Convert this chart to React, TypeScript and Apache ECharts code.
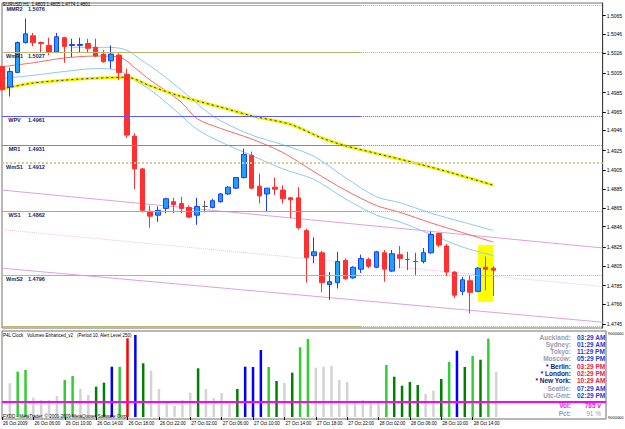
import { useEffect, useRef } from "react";
import * as echarts from "echarts";

// ---------------- DATA ----------------
const TOTAL_SLOTS = 78; // 64 bars + empty shift area on the right
const timeLabels = [
  "26 Oct 2009", "26 Oct 06:00", "26 Oct 10:00", "26 Oct 14:00", "26 Oct 18:00",
  "26 Oct 22:00", "27 Oct 02:00", "27 Oct 06:00", "27 Oct 10:00", "27 Oct 14:00",
  "27 Oct 18:00", "27 Oct 22:00", "28 Oct 02:00", "28 Oct 06:00", "28 Oct 10:00",
  "28 Oct 14:00",
];
const LABEL_EVERY = 4;

const candleOpen = [
  1.5012, 1.4991, 1.5006, 1.5037, 1.5044, 1.5037, 1.5034, 1.5027, 1.5042, 1.5034,
  1.5034, 1.5036, 1.5032, 1.5025, 1.5018, 1.5024, 1.5004, 1.4940, 1.4906, 1.4862,
  1.4858, 1.4865, 1.4872, 1.4870, 1.4866, 1.4858, 1.4867, 1.4866, 1.4872, 1.4880,
  1.4886, 1.4897, 1.4920, 1.4888, 1.4880, 1.4887, 1.4884, 1.4876, 1.4876, 1.4842,
  1.4816, 1.4819, 1.4786, 1.4788, 1.4811, 1.4793, 1.4802, 1.4812, 1.4804, 1.4819,
  1.4800, 1.4817, 1.4812, 1.4810, 1.4810, 1.4819, 1.4839, 1.4826, 1.4799, 1.4779,
  1.4790, 1.4779, 1.4804, 1.4803,
];
const candleClose = [
  1.4988, 1.5007, 1.5037, 1.5046, 1.5037, 1.5036, 1.5027, 1.5043, 1.5033, 1.5035,
  1.5035, 1.5031, 1.5023, 1.5017, 1.5025, 1.5006, 1.4941, 1.4906, 1.4863, 1.4857,
  1.4863, 1.4875, 1.4869, 1.4865, 1.4856, 1.4867, 1.4867, 1.4873, 1.4880, 1.4887,
  1.4897, 1.4921, 1.4886, 1.4878, 1.4886, 1.4885, 1.4875, 1.4874, 1.4845, 1.4814,
  1.4820, 1.4788, 1.4789, 1.4810, 1.4792, 1.4804, 1.4813, 1.4805, 1.4820, 1.4802,
  1.4818, 1.4813, 1.4812, 1.4810, 1.4819, 1.4838, 1.4827, 1.4799, 1.4775, 1.4791,
  1.4778, 1.4803, 1.4802, 1.4801,
];
const candleLow = [
  1.4987, 1.4981, 1.5006, 1.5036, 1.5033, 1.5026, 1.5024, 1.5026, 1.5016, 1.5022,
  1.5026, 1.5027, 1.5022, 1.5016, 1.5010, 1.4998, 1.4938, 1.4885, 1.4861, 1.4845,
  1.4851, 1.4860, 1.4860, 1.4860, 1.4855, 1.4848, 1.4861, 1.4865, 1.4871, 1.4879,
  1.4885, 1.4896, 1.4885, 1.4870, 1.4862, 1.4879, 1.4870, 1.4855, 1.4843, 1.4788,
  1.4808, 1.4778, 1.4770, 1.4782, 1.4791, 1.4792, 1.4798, 1.4803, 1.4803, 1.4789,
  1.4799, 1.4803, 1.4801, 1.4796, 1.4808, 1.4818, 1.4825, 1.4795, 1.4772, 1.4775,
  1.4756, 1.4778, 1.4780, 1.4774,
];
const candleHigh = [
  1.5013, 1.5011, 1.5038, 1.5062, 1.5047, 1.5038, 1.5042, 1.5047, 1.5043, 1.5041,
  1.5042, 1.5041, 1.5041, 1.5029, 1.5034, 1.5026, 1.5010, 1.4943, 1.4907, 1.4868,
  1.4867, 1.4876, 1.4876, 1.4877, 1.4868, 1.4876, 1.4873, 1.4875, 1.4881, 1.4888,
  1.4897, 1.4927, 1.4924, 1.4901, 1.4886, 1.4897, 1.4889, 1.4877, 1.4887, 1.4844,
  1.4835, 1.4821, 1.4799, 1.4820, 1.4813, 1.4805, 1.4817, 1.4814, 1.4821, 1.4822,
  1.4822, 1.4826, 1.4820, 1.4819, 1.4824, 1.4841, 1.4840, 1.4828, 1.4800, 1.4794,
  1.4796, 1.4804, 1.4815, 1.4805,
];
const dojiBars = [26, 52, 53];

// moving averages / bands, sampled [barIndex, price]
const smaYellow: [number, number][] = [
  [0, 1.4989], [4, 1.4995], [8, 1.4998], [12, 1.5000], [16, 1.5001], [19, 1.4992],
  [23, 1.4981], [28, 1.4970], [32, 1.4961], [37, 1.4952], [41, 1.4938], [44, 1.4930],
  [48, 1.4922], [53, 1.4912], [58, 1.4901], [63, 1.4889],
];
const emaRed: [number, number][] = [
  [0, 1.5012], [4, 1.5016], [8, 1.5021], [12, 1.5023], [15, 1.5022], [17, 1.5011],
  [19, 1.4998], [21, 1.4987], [23, 1.4975], [25, 1.4958], [28, 1.4948], [32, 1.4937],
  [36, 1.4923], [40, 1.4903], [44, 1.4884], [48, 1.4868], [51, 1.4861], [55, 1.4850],
  [59, 1.4840], [63, 1.4830],
];
const bandUpper: [number, number][] = [
  [9, 1.5032], [14, 1.5032], [16, 1.5029], [18, 1.5018],
  [20, 1.5007], [24, 1.4981], [26, 1.4967], [28, 1.4956], [32, 1.4941], [36, 1.4931],
  [40, 1.4919], [44, 1.4897], [48, 1.4877], [51, 1.4871], [55, 1.4860], [59, 1.4851],
  [63, 1.4842],
];
const bandLower: [number, number][] = [
  [0, 1.5000], [4, 1.5003], [8, 1.5007], [12, 1.5010], [15, 1.5008], [17, 1.4998],
  [19, 1.4988], [21, 1.4975], [23, 1.4961], [25, 1.4947], [28, 1.4934], [32, 1.4920],
  [36, 1.4906], [40, 1.4895], [44, 1.4875], [48, 1.4858], [51, 1.4851], [55, 1.4838],
  [59, 1.4825], [63, 1.4816],
];
// regression channel
const channelUpper: [number, number][] = [[0, 1.4884], [77, 1.4824]];
const channelMid: [number, number][] = [[0, 1.4843], [77, 1.4784]];
const channelLower: [number, number][] = [[0, 1.4803], [77, 1.4747]];

// pivot levels
const pivotNames = ["MMR2", "WmR1", "WPV", "MR1", "WmS1", "WS1", "WmS2", ""];
const pivotValues = [1.5076, 1.5027, 1.4961, 1.4931, 1.4912, 1.4862, 1.4796, 1.4743];
const PIVOT_SPLIT = 46;

// highlight box
const boxFrom = 61, boxTo = 63, boxHigh = 1.4827, boxLow = 1.4768;
const lastPrice = 1.4801;

const priceTicks = [
  1.5065, 1.5046, 1.5026, 1.5005, 1.4985, 1.4965, 1.4946, 1.4925, 1.4905, 1.4885,
  1.4865, 1.4846, 1.4825, 1.4805, 1.4785, 1.4766, 1.4745,
];

const volumes = [
  null, 570, 766, 794, 326, 287, 287, 355, 625, 693, 473, 372, 512, 580, 850, 848,
  1330, 1386, 908, 782, 473, 237, 186, 287, 411, 823, 473, 321, 406, 220, 473, 850,
  845, 1132, 845, 608, 575, 749, 1178, 1318, 833, 850, 862, 625, 592, 259, 287, 259,
  259, 879, 681, 529, 592, 541, 389, 444, 642, 930, 1120, 845, 1031, 968, 1323, 765,
];
const volumeCodes =
  "n" + "qllqqqqllq" + "qddblrbdqq" + "qqqqdqqqqd" + "bbbldqdllq" + "qqqqqqqqld" + "dddqqdlbdl" + "dlq";
const alertLevel = 250;

const clockCities = ["Auckland:", "Sydney:", "Tokyo:", "Moscow:", "* Berlin:", "* London:", "* New York:", "Seattle:", "Utc-Gmt:"];
const clockTimes = ["03:29 AM", "01:29 AM", "11:29 PM", "05:29 PM", "03:29 PM", "02:29 PM", "10:29 AM", "07:29 AM", "02:29 PM"];
const clockMarked = [false, false, false, false, true, true, true, false, false];
const volText = "765 v";
const pctText = "91 %";

// ---------------- STYLE ----------------
const FONT = "'Liberation Sans', Arial, sans-serif";
const volColors: Record<string, string> = {
  q: "#d3d3d3", l: "#32cd32", d: "#008000", b: "#0000ff", r: "#ff0000",
};
const pivotColors = ["#bdb76b", "#bdb76b", "#5a5aff", "#e0607a", "#d4cc98", "#7cc47c", "#bdb76b", "#bdb76b"];
const pivotWidths = [1, 1, 1, 1, 2, 1, 1, 1];
const pivotLeftDotted = [false, false, false, false, true, false, false, false];

function buildOption() {
  const cats = Array.from({ length: TOTAL_SLOTS }, (_, i) => String(i));
  const lastSlot = TOTAL_SLOTS - 1;

  const candleData = candleOpen.map((o, i) => {
    const v = [o, candleClose[i], candleLow[i], candleHigh[i]];
    if (dojiBars.includes(i)) {
      return {
        value: v,
        itemStyle: { color: "#606060", color0: "#606060", borderColor: "#606060", borderColor0: "#606060" },
      };
    }
    return v;
  });

  const pivotMarks: any[] = [];
  pivotValues.forEach((v, i) => {
    const color = pivotColors[i];
    const width = pivotWidths[i];
    pivotMarks.push([
      {
        coord: [0, v],
        lineStyle: { color, width, type: pivotLeftDotted[i] ? "dotted" : "solid" },
        label: pivotNames[i]
          ? {
              show: true,
              position: "insideStartBottom",
              distance: [2, 1],
              formatter: `{n|${pivotNames[i]}}{v|${v.toFixed(4)}}`,
              rich: {
                n: { width: 21, align: "right", fontSize: 5.5, fontWeight: "bold", color: "#1c1c64", fontFamily: FONT },
                v: { padding: [0, 0, 0, 3], fontSize: 5.5, fontWeight: "bold", color: "#1c1c64", fontFamily: FONT },
              },
            }
          : { show: false },
      },
      { coord: [PIVOT_SPLIT, v] },
    ]);
    pivotMarks.push([
      { coord: [PIVOT_SPLIT, v], lineStyle: { color, width, type: "dotted" }, label: { show: false } },
      { coord: [lastSlot, v] },
    ]);
  });

  const lineSeries = (data: [number, number][], color: string, width: number, z: number, type: any = "solid", smooth = 0.3) => ({
    type: "line",
    xAxisIndex: 0,
    yAxisIndex: 0,
    data,
    showSymbol: false,
    symbol: "none",
    smooth,
    silent: true,
    z,
    lineStyle: { color, width, type },
  });

  const volData = volumes.map((v, i) => ({
    value: v,
    itemStyle: { color: volColors[volumeCodes[i]] || "#d3d3d3" },
  }));

  const graphics: any[] = [];
  const txt = (text: string, x: number, y: number, fill: string, font: string, align = "left") => ({
    type: "text",
    x,
    y,
    silent: true,
    z: 50,
    style: { text, fill, font, textAlign: align, align, textVerticalAlign: "middle", verticalAlign: "middle" },
  });
  graphics.push(txt("EURUSD,H1  1.4803 1.4805 1.4774 1.4801", 3, 4.5, "#000", `4.5px ${FONT}`));
  graphics.push(txt("P4L Clock   Volumes Enhanced_v2   (Period 10, Alert Level 250)", 3, 335.5, "#000", `4.5px ${FONT}`));
  graphics.push(txt("FXDD - MetaTrader, © 2001-2009 MetaQuotes Software Corp.", 3, 416.5, "#000", `4.5px ${FONT}`));
  graphics.push(txt("9000000", 608, 333.5, "#000", `4px ${FONT}`));
  graphics.push(txt("9000000", 608, 417.5, "#000", `4px ${FONT}`));
  const rowY0 = 337;
  const rowDy = 7.33;
  clockCities.forEach((c, i) => {
    const y = rowY0 + i * rowDy;
    graphics.push(txt(c, 571, y, clockMarked[i] ? "#1a1a6e" : "#9a9ab0", `bold 6.5px ${FONT}`, "right"));
    graphics.push(txt(clockTimes[i], 577, y, clockMarked[i] ? "#e8203c" : "#1e3cd0", `bold 6.5px ${FONT}`, "left"));
  });
  graphics.push(txt("Vol:", 571, 405.7, "#e020e0", `bold 6.5px ${FONT}`, "right"));
  graphics.push(txt(volText, 601, 405.7, "#e020e0", `bold 6.5px ${FONT}`, "right"));
  graphics.push(txt("Pct:", 571, 413, "#9a9ab0", `bold 6.5px ${FONT}`, "right"));
  graphics.push(txt(pctText, 601, 413, "#9a9ab0", `6.5px ${FONT}`, "right"));

  const labelShown = (idx: number) => idx % LABEL_EVERY === 0 && idx / LABEL_EVERY < timeLabels.length;

  return {
    animation: false,
    backgroundColor: "#ffffff",
    grid: [
      { left: 2, right: 19, top: 3, height: 325, show: true, borderColor: "#707070", borderWidth: 1 },
      { left: 2, right: 19, top: 331, height: 88, show: true, borderColor: "#707070", borderWidth: 1 },
    ],
    xAxis: [
      {
        type: "category", gridIndex: 0, data: cats, boundaryGap: false,
        axisLine: { show: false }, axisTick: { show: false }, axisLabel: { show: false }, splitLine: { show: false },
      },
      {
        type: "category", gridIndex: 1, data: cats, boundaryGap: false,
        axisLine: { show: false },
        axisTick: { show: true, interval: (i: number) => labelShown(i), length: 3, lineStyle: { color: "#000" } },
        axisLabel: {
          show: true,
          interval: (i: number) => labelShown(i),
          formatter: (_v: string, i: number) => timeLabels[i / LABEL_EVERY] || "",
          align: "left",
          margin: 2,
          padding: [0, 0, 0, 1],
          fontSize: 4.5,
          fontFamily: FONT,
          color: "#000",
        },
        splitLine: { show: false },
      },
    ],
    yAxis: [
      {
        type: "value", gridIndex: 0, position: "right", min: 1.4741, max: 1.5078, scale: true,
        axisLine: { show: true, lineStyle: { color: "#404040" } },
        axisTick: { show: true, customValues: priceTicks, length: 3, lineStyle: { color: "#000" } },
        axisLabel: {
          show: true, customValues: priceTicks, formatter: (v: number) => v.toFixed(4),
          fontSize: 5, fontFamily: FONT, color: "#000", margin: 4,
        },
        splitLine: { show: false },
      },
      {
        type: "value", gridIndex: 1, position: "right", min: -34, max: 1453, show: false,
        splitLine: { show: false },
      },
    ],
    graphic: graphics,
    series: [
      {
        ...lineSeries(channelUpper, "#e0a0e0", 1, 1, "solid", 0),
        markLine: { symbol: ["none", "none"], silent: true, animation: false, data: pivotMarks },
        markArea: {
          silent: true,
          itemStyle: { color: "#ffff00", opacity: 1 },
          data: [[{ xAxis: boxFrom, yAxis: boxHigh }, { xAxis: boxTo, yAxis: boxLow }]],
        },
      },
      lineSeries(channelMid, "#ecbcec", 1, 1, "dotted", 0),
      lineSeries(channelLower, "#e0a0e0", 1, 1, "solid", 0),
      lineSeries(bandUpper, "#8cc8f0", 1, 2),
      lineSeries(bandLower, "#8cc8f0", 1, 2),
      lineSeries(emaRed, "#f06a6a", 1, 2),
      lineSeries(smaYellow, "#f0f000", 3, 2),
      lineSeries(smaYellow, "#303000", 1, 2, [2, 3]),
      {
        type: "candlestick",
        xAxisIndex: 0,
        yAxisIndex: 0,
        data: candleData,
        barWidth: 5,
        z: 4,
        silent: true,
        itemStyle: {
          color: "#1ea0ff",
          color0: "#ff3030",
          borderColor: "#1c3cff",
          borderColor0: "#ff3030",
          borderWidth: 1,
        },
        markLine: {
          symbol: ["none", "none"],
          silent: true,
          animation: false,
          data: [
            {
              yAxis: lastPrice,
              lineStyle: { opacity: 0 },
              label: {
                show: true, position: "end", distance: 1, formatter: lastPrice.toFixed(4),
                backgroundColor: "#000", color: "#fff", fontSize: 5, fontFamily: FONT, padding: [0.5, 1.5, 0.5, 1.5],
              },
            },
          ],
        },
      },
      {
        type: "bar",
        xAxisIndex: 1,
        yAxisIndex: 1,
        data: volData,
        barWidth: 2.5,
        silent: true,
        markLine: {
          symbol: ["none", "none"],
          silent: true,
          animation: false,
          label: { show: false },
          lineStyle: { color: "#ff00ff", width: 2, type: "solid" },
          data: [{ yAxis: alertLevel }],
        },
      },
    ],
  };
}

export default function App() {
  const ref = useRef<HTMLDivElement>(null);
  useEffect(() => {
    if (!ref.current) return;
    const chart = echarts.init(ref.current, null, { renderer: "svg" });
    chart.setOption(buildOption() as any);
    return () => chart.dispose();
  }, []);
  return (
    <div
      ref={ref}
      style={{ position: "fixed", left: 0, top: 0, width: 625, height: 429, background: "#ffffff" }}
    />
  );
}
